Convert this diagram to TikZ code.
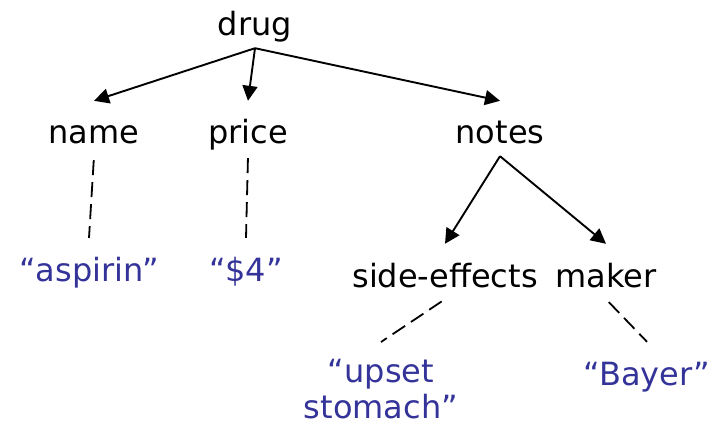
\documentclass[tikz,border=0pt]{standalone}
\usepackage{fontspec}
\setmainfont{DejaVu Sans}
\usepackage{tikz}
\usetikzlibrary{arrows.meta}
\usepackage{xcolor}
\definecolor{valblue}{RGB}{51,51,153}
\newcommand{\treefont}{\fontsize{32}{36}\selectfont}

\begin{document}
\begin{tikzpicture}[x=1pt,y=-1pt,
  key/.style={font=\treefont, text height=43pt, text depth=12pt, inner sep=0pt, anchor=base},
  val/.style={key, text=valblue},
  edge/.style={-{Triangle[length=15pt,width=15pt]}, line width=1.9pt},
  attr/.style={line width=1.8pt, dash pattern={on 15pt off 7pt}}]
\useasboundingbox (0,0) rectangle (712,425);

% Text Node
\node[key] (drug) at (255,36) {drug};
% Text Node
\node[key] (name) at (94,144) {name};
\node[key] (price) at (248,144) {price};
\node[key] (notes) at (500,144) {notes};
% Text Node
\node[key] (side) at (445,287) {side-effects};
\node[key] (maker) at (606,287) {maker};
% Text Node
\node[val] (aspirin) at (89,281) {“aspirin”};
\node[val] (four) at (246,281) {“\$4”};
\node[font=\treefont, text=valblue, align=center, inner xsep=0pt, inner ysep=17pt, anchor=north] (upset) at (381,342) {“upset\\stomach”};
\node[val] (bayer) at (647,385) {“Bayer”};

%Straight Lines
\draw[edge] (drug.south) -- (name.north);
\draw[edge] (drug.south) -- (price.north);
\draw[edge] (drug.south) -- (notes.north);
\draw[edge] (notes.south) -- (side.north);
\draw[edge] (notes.south) -- (maker.north);

%Dashed Lines
\draw[attr, shorten <=4pt] (name.south) -- (aspirin.north);
\draw[attr, shorten <=2pt] (price.south) -- (four.north);
\draw[attr, shorten <=4pt] (side.south) -- (upset.north);
\draw[attr, shorten <=4pt] (maker.south) -- (bayer.north);

\end{tikzpicture}
\end{document}
